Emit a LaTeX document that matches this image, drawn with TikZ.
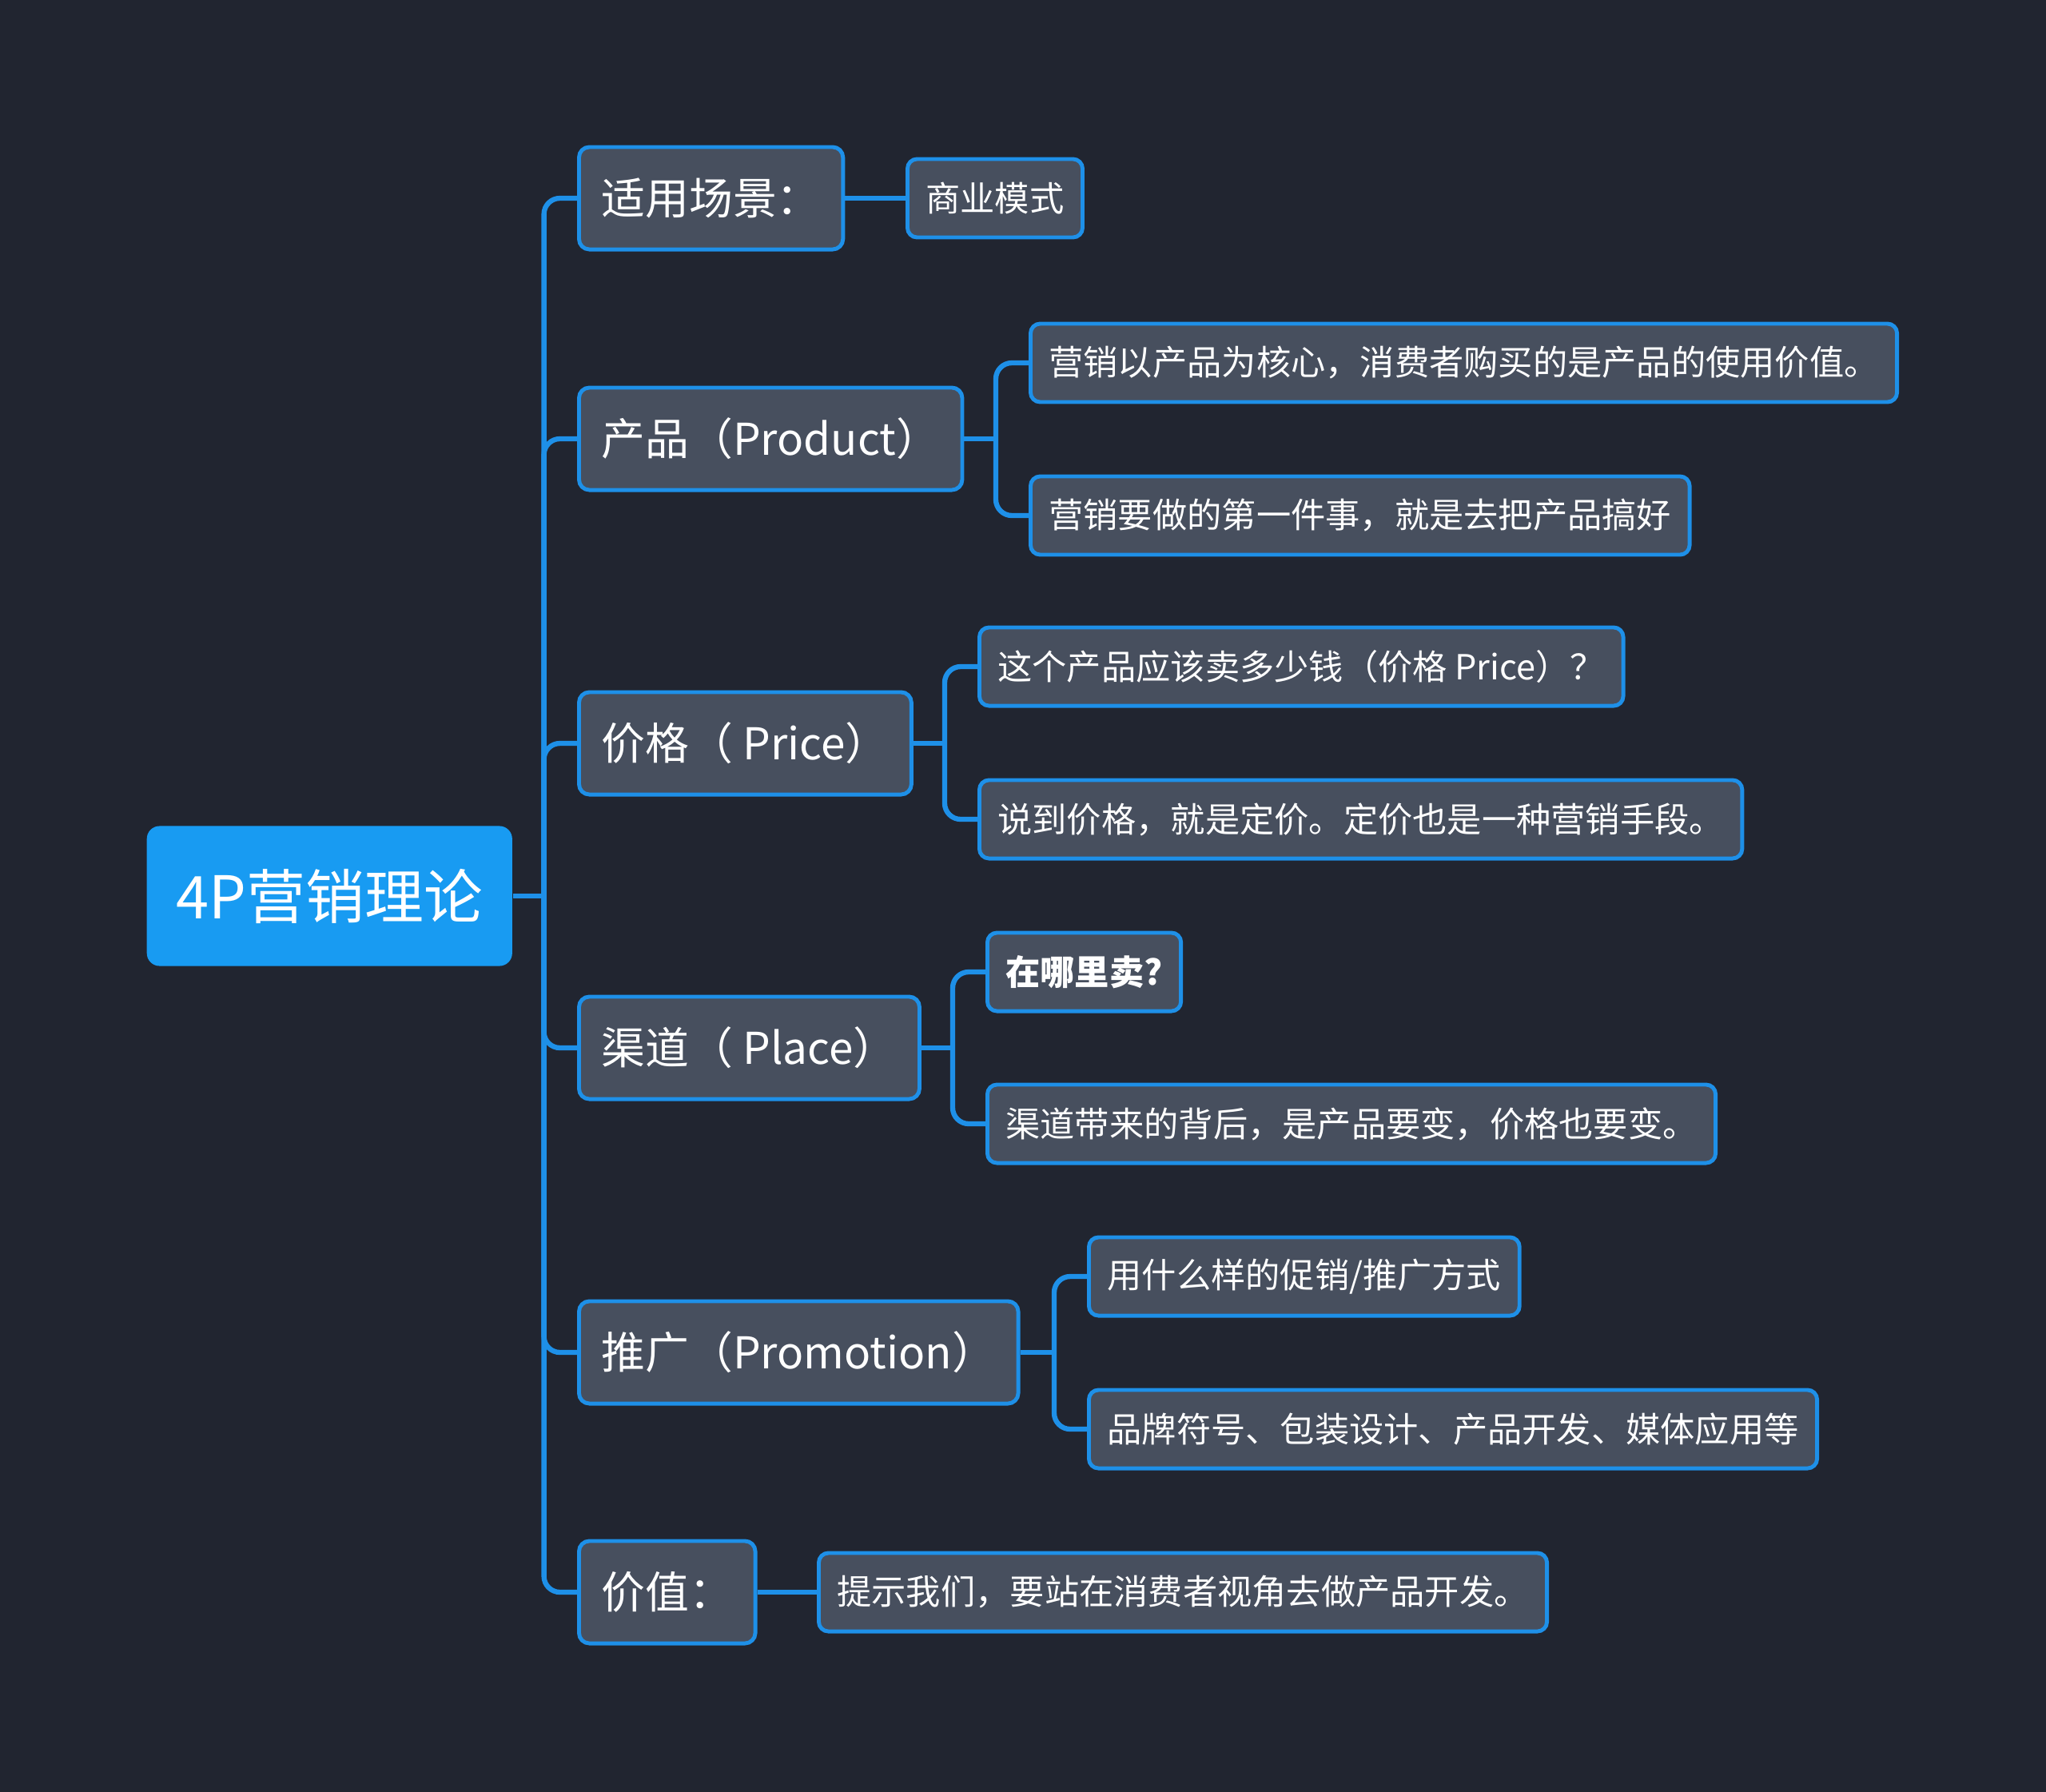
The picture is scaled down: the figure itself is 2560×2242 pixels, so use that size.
\documentclass[tikz,border=0pt]{standalone}
\usepackage{fontspec}
\setmainfont{Noto Sans CJK SC}
\usepackage{tikz}
\usetikzlibrary{positioning}
\definecolor{fundo}{RGB}{33,37,48}
\definecolor{azulforte}{RGB}{24,155,242}
\definecolor{azulborda}{RGB}{30,144,232}
\definecolor{cinzaazul}{RGB}{71,79,94}
\tikzset{
  raiz/.style={rectangle,rounded corners=0.16cm,fill=azulforte,text=white,
    minimum height=1.75cm,inner xsep=0.37cm,anchor=west,
    font=\fontsize{21}{25}\selectfont},
  topico/.style={rectangle,rounded corners=0.13cm,draw=azulborda,line width=1.4pt,
    fill=cinzaazul,text=white,minimum height=1.28cm,inner xsep=0.28cm,anchor=west,
    font=\fontsize{15.6}{18}\selectfont},
  folha/.style={rectangle,rounded corners=0.12cm,draw=azulborda,line width=1.4pt,
    fill=cinzaazul,text=white,minimum height=0.98cm,inner xsep=0.23cm,anchor=west,
    font=\fontsize{12.3}{14}\selectfont},
  liga/.style={draw=azulborda,line width=1.8pt,rounded corners=0.2cm}
}

\begin{document}
\begin{tikzpicture}[x=0.01cm,y=-0.01cm]
\fill[fundo] (0,0) rectangle (2560,2242);
% raiz e topicos
\node[raiz] (raiz) at (183,1121) {4P营销理论};
\node[topico] (cena) at (722,248) {适用场景：};
\node[topico] (produto) at (722,549) {产品（Product）};
\node[topico] (preco) at (722,930) {价格（ Price）};
\node[topico] (canal) at (722,1311) {渠道（ Place）};
\node[topico] (promo) at (722,1692) {推广（Promotion）};
\node[topico] (valor) at (722,1992) {价值：};
% folhas
\node[folha] (negocio) at (1133,248) {商业模式};
\node[folha] (prod1) at (1287,454) {营销以产品为核心，消费者购买的是产品的使用价值。};
\node[folha] (prod2) at (1287,645) {营销要做的第一件事，就是去把产品搞好};
\node[folha] (prec1) at (1223,834) {这个产品应该卖多少钱（价格 Price）？};
\node[folha] (prec2) at (1223,1025) {说到价格，就是定价。定价也是一种营销手段。};
\node[folha] (can1) at (1233,1216) {\bfseries 在哪里卖?};
\node[folha] (can2) at (1233,1406) {渠道带来的背后，是产品要变，价格也要变。};
\node[folha] (prom1) at (1360,1597) {用什么样的促销/推广方式};
\node[folha] (prom2) at (1360,1788) {品牌符号、包装设计、产品开发、媒体应用等};
\node[folha] (val1) at (1022,1992) {提示我们，要站在消费者视角去做产品开发。};
% ligacoes
\draw[liga] (raiz.east) -- ++(39,0) coordinate (tronco);
\foreach \n in {cena,produto,preco,canal,promo,valor}
  \draw[liga] (tronco) |- (\n.west);
\draw[liga] (cena.east) -- (negocio.west);
\draw[liga] (valor.east) -- (val1.west);
\foreach \p/\a/\b in {produto/prod1/prod2,preco/prec1/prec2,canal/can1/can2,promo/prom1/prom2}{
  \path (\p.east -| \a.west) ++(-41,0) coordinate (j\p);
  \draw[liga] (\p.east) -- (j\p);
  \draw[liga] (j\p) |- (\a.west);
  \draw[liga] (j\p) |- (\b.west);
}
\end{tikzpicture}
\end{document}
